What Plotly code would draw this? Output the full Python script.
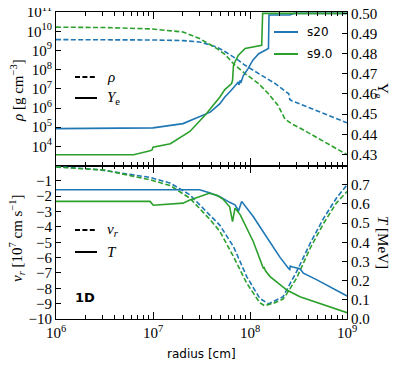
import plotly.graph_objects as go
from plotly.subplots import make_subplots

# ---- data (radius in cm) ----
# density, s20
r_rho_s20 = [1.0e6, 3.16e6, 1.0e7, 2.04e7, 3.02e7, 3.89e7, 4.57e7, 5.5e7, 7.24e7,
             8.91e7, 1.23e8, 1.82e8, 2.51e8, 2.57e8, 2.69e8, 1.0e9]
rho_s20 = [3.7e9, 3.67e9, 3.55e9, 3.3e9, 2.8e9, 1.95e9, 1.5e9, 8.9e8, 3.7e8,
           1.7e8, 6.2e7, 1.86e7, 5.5e6, 2.8e6, 2.4e6, 1.7e5]
# density, s9.0
r_rho_s9 = [1.0e6, 3.16e6, 9.33e6, 2.04e7, 3.02e7, 4.57e7, 5.5e7, 7.0e7, 8.91e7,
            1.23e8, 1.55e8, 1.95e8, 2.29e8, 2.69e8, 3.27e8, 1.0e9]
rho_s9 = [1.66e10, 1.58e10, 1.35e10, 9.3e9, 4.2e9, 1.26e9, 6.3e8, 1.7e8, 6.2e7,
          1.86e7, 5.5e6, 1.35e6, 2.7e5, 1.5e5, 9.1e4, 3.7e3]

# electron fraction, s20
r_ye_s20 = [1.0e6, 1.0e7, 2.04e7, 3.02e7, 3.89e7, 4.9e7, 5.5e7, 6.31e7, 7.24e7, 7.59e7,
            7.67e7, 7.94e7, 8.04e7, 8.51e7, 9.55e7, 1.07e8, 1.23e8, 1.43e8, 1.55e8,
            1.57e8, 2.57e8, 2.82e8, 1.0e9]
ye_s20 = [0.4428, 0.4432, 0.4453, 0.4486, 0.4510, 0.4552, 0.4585, 0.4615, 0.4648, 0.4660,
          0.4645, 0.4668, 0.4655, 0.4690, 0.4726, 0.4768, 0.4800, 0.4817, 0.4826,
          0.4992, 0.4992, 0.5000, 0.5000]
# electron fraction, s9.0
r_ye_s9 = [1.0e6, 6.31e6, 9.33e6, 9.77e6, 1.0e7, 1.51e7, 2.4e7, 3.55e7, 4.17e7, 4.9e7,
           5.5e7, 6.46e7, 6.61e7, 6.76e7, 7.0e7, 7.59e7, 8.91e7, 1.32e8, 1.35e8, 1.0e9]
ye_s9 = [0.4298, 0.4298, 0.4318, 0.4322, 0.4336, 0.4353, 0.4414, 0.4502, 0.4544, 0.4585,
         0.4622, 0.4652, 0.4668, 0.4743, 0.4760, 0.4793, 0.4826, 0.4842, 0.5000, 0.5000]

# radial velocity [1e7 cm/s], s20
r_vr_s20 = [1.0e6, 2.82e6, 9.33e6, 1.51e7, 2.4e7, 3.89e7, 4.9e7, 6.76e7, 9.25e7, 1.26e8,
            1.55e8, 2.19e8, 2.79e8, 3.02e8, 4.17e8, 5.75e8, 7.76e8, 1.0e9]
vr_s20 = [-0.07, -0.28, -0.78, -1.15, -1.91, -3.22, -3.9, -5.29, -7.24, -8.65,
          -9.02, -8.55, -7.35, -6.92, -5.07, -3.43, -2.13, -1.26]
# radial velocity [1e7 cm/s], s9.0
r_vr_s9 = [1.0e6, 3.16e6, 9.33e6, 1.51e7, 2.4e7, 3.89e7, 4.9e7, 6.76e7, 9.25e7, 1.26e8,
           1.41e8, 1.74e8, 2.19e8, 2.4e8, 3.02e8, 4.17e8, 5.75e8, 7.76e8, 1.0e9]
vr_s9 = [-0.1, -0.3, -0.93, -1.31, -2.13, -3.54, -4.3, -5.94, -7.67, -8.94,
         -9.13, -8.98, -8.7, -8.35, -7.35, -5.39, -3.76, -2.45, -1.70]

# temperature [MeV], s20
r_t_s20 = [1.0e6, 3.02e7, 3.89e7, 4.9e7, 6.17e7, 7.0e7, 7.41e7, 7.59e7, 8.2e7, 1.08e8,
           1.26e8, 1.55e8, 2.04e8, 2.51e8, 2.57e8, 2.6e8, 2.69e8, 3.27e8, 3.55e8,
           4.9e8, 1.0e9]
t_s20 = [0.674, 0.674, 0.657, 0.637, 0.608, 0.595, 0.575, 0.560, 0.613, 0.534,
         0.482, 0.413, 0.321, 0.262, 0.258, 0.275, 0.272, 0.262, 0.239,
         0.204, 0.120]
# temperature [MeV], s9.0
r_t_s9 = [1.0e6, 9.33e6, 1.007e7, 1.12e7, 2.04e7, 2.4e7, 3.02e7, 3.8e7, 4.57e7, 5.25e7,
          6.17e7, 6.46e7, 6.61e7, 7.0e7, 7.94e7, 1.08e8, 1.37e8, 1.40e8, 1.45e8,
          1.61e8, 2.4e8, 3.27e8, 4.9e8, 1.0e9]
t_s9 = [0.613, 0.613, 0.593, 0.595, 0.604, 0.620, 0.639, 0.655, 0.645, 0.625,
        0.585, 0.526, 0.508, 0.578, 0.543, 0.404, 0.265, 0.268, 0.250,
        0.221, 0.151, 0.116, 0.085, 0.033]

# ticks
x_tickvals = [1e6, 1e7, 1e8, 1e9]
x_ticktext = ['10<sup>6</sup>', '10<sup>7</sup>', '10<sup>8</sup>', '10<sup>9</sup>']
rho_tickvals = [1e4, 1e5, 1e6, 1e7, 1e8, 1e9, 1e10, 1e11]
rho_ticktext = ['10<sup>%d</sup>' % k for k in range(4, 12)]
ye_tickvals = [0.43, 0.44, 0.45, 0.46, 0.47, 0.48, 0.49, 0.50]
ye_ticktext = ['0.43', '0.44', '0.45', '0.46', '0.47', '0.48', '0.49', '0.50']
vr_tickvals = [-10, -9, -8, -7, -6, -5, -4, -3, -2, -1]
vr_ticktext = ['\u221210', '\u22129', '\u22128', '\u22127', '\u22126', '\u22125',
               '\u22124', '\u22123', '\u22122', '\u22121']
t_tickvals = [0.0, 0.1, 0.2, 0.3, 0.4, 0.5, 0.6, 0.7]
t_ticktext = ['0.0', '0.1', '0.2', '0.3', '0.4', '0.5', '0.6', '0.7']

BLUE = '#1f77b4'
GREEN = '#2ca02c'
DASH = '5px,2.4px'
LW = 1.6
SERIF = 'Liberation Serif'
SANS = 'DejaVu Sans'

fig = make_subplots(rows=2, cols=1, shared_xaxes=True, vertical_spacing=0,
                    specs=[[{"secondary_y": True}], [{"secondary_y": True}]])

# top panel
fig.add_trace(go.Scatter(x=r_rho_s20, y=rho_s20, mode='lines',
                         line=dict(color=BLUE, width=LW, dash=DASH)), row=1, col=1)
fig.add_trace(go.Scatter(x=r_rho_s9, y=rho_s9, mode='lines',
                         line=dict(color=GREEN, width=LW, dash=DASH)), row=1, col=1)
fig.add_trace(go.Scatter(x=r_ye_s20, y=ye_s20, mode='lines',
                         line=dict(color=BLUE, width=LW)), row=1, col=1, secondary_y=True)
fig.add_trace(go.Scatter(x=r_ye_s9, y=ye_s9, mode='lines',
                         line=dict(color=GREEN, width=LW)), row=1, col=1, secondary_y=True)

# bottom panel
fig.add_trace(go.Scatter(x=r_vr_s20, y=vr_s20, mode='lines',
                         line=dict(color=BLUE, width=LW, dash=DASH)), row=2, col=1)
fig.add_trace(go.Scatter(x=r_vr_s9, y=vr_s9, mode='lines',
                         line=dict(color=GREEN, width=LW, dash=DASH)), row=2, col=1)
fig.add_trace(go.Scatter(x=r_t_s20, y=t_s20, mode='lines',
                         line=dict(color=BLUE, width=LW)), row=2, col=1, secondary_y=True)
fig.add_trace(go.Scatter(x=r_t_s9, y=t_s9, mode='lines',
                         line=dict(color=GREEN, width=LW)), row=2, col=1, secondary_y=True)

# ticklabeloverflow='allow' keeps the 10^11 / 0.50 labels that sit on the figure's top edge
axis_common = dict(showline=True, linecolor='black', linewidth=1.2, ticks='inside',
                   tickcolor='black', tickwidth=1, showgrid=False, zeroline=False,
                   automargin=False, ticklabeloverflow='allow',
                   tickfont=dict(family=SERIF, size=15, color='black'))

minor_vals = [m * 10 ** e for e in range(6, 9) for m in range(2, 10)]
fig.update_xaxes(type='log', range=[6, 9], mirror='ticks', ticklen=7,
                 tickvals=x_tickvals, ticktext=x_ticktext, domain=[0, 1],
                 minor=dict(ticks='inside', ticklen=3.5, tickvals=minor_vals,
                            tickcolor='black', showgrid=False),
                 **axis_common)
fig.update_xaxes(showticklabels=False, row=1, col=1)

fig.update_yaxes(type='log', range=[3, 11.01], ticklen=5, tickvals=rho_tickvals,
                 ticktext=rho_ticktext, domain=[0.5, 1],
                 row=1, col=1, secondary_y=False, **axis_common)
fig.update_yaxes(range=[0.4245, 0.5007], ticklen=5, tickvals=ye_tickvals,
                 ticktext=ye_ticktext, row=1, col=1, secondary_y=True, **axis_common)
fig.update_yaxes(range=[-10, 0], ticklen=5, tickvals=vr_tickvals,
                 ticktext=vr_ticktext, domain=[0, 0.5],
                 row=2, col=1, secondary_y=False, **axis_common)
fig.update_yaxes(range=[0, 0.8], ticklen=5, tickvals=t_tickvals,
                 ticktext=t_ticktext, row=2, col=1, secondary_y=True, **axis_common)


# page pixel -> paper helpers (plot area 56..347 x 12..319 on the page)
def px(x):
    return (x - 56) / 291


def py(y):
    return (319 - y) / 307


shapes = []
annotations = []


def leg_line(x0, x1, y, color, dash=None):
    shapes.append(dict(type='line', xref='paper', yref='paper', x0=px(x0), x1=px(x1),
                       y0=py(y), y1=py(y),
                       line=dict(color=color, width=2, dash=dash or 'solid')))


def text(x, y, s, size=15, family=SERIF, xanchor='left', angle=0):
    annotations.append(dict(x=px(x), y=py(y), xref='paper', yref='paper', text=s,
                            showarrow=False, xanchor=xanchor, yanchor='middle',
                            textangle=angle,
                            font=dict(family=family, size=size, color='black')))


# model legend
leg_line(274, 298, 32, BLUE)
leg_line(274, 298, 54, GREEN)
text(305, 32, 's20', size=12, family=SANS)
text(305, 54, 's9.0', size=12, family=SANS)

# line style legends
leg_line(75, 97, 77, 'black', DASH)
leg_line(75, 97, 98, 'black')
text(105, 77, '<i>ρ</i>')
text(105, 98, '<i>Y</i><sub>e</sub>')
leg_line(75, 97, 230, 'black', DASH)
leg_line(75, 97, 252, 'black')
text(105, 230, '<i>v</i><sub><i>r</i></sub>')
text(105, 252, '<i>T</i>')
text(73, 297, '<b>1D</b>', size=13, family=SANS)

# axis titles
text(17, 91, '<i>ρ</i> [g cm<sup>−3</sup>]', xanchor='center', angle=-90)
text(382, 91, 'Y<sub>e</sub>', xanchor='center', angle=90)
text(17, 238, '<i>v</i><sub><i>r</i></sub> [10<sup>7</sup> cm s<sup>−1</sup>]',
     xanchor='center', angle=-90)
text(383, 242, '<i>T</i> [MeV]', xanchor='center', angle=90)
text(201, 354, 'radius [cm]', size=12, family=SANS, xanchor='center')

# the page body puts the figure 8px in from the top-left corner,
# so the figure is 8px smaller to keep the plot area where it belongs
fig.update_layout(width=391, height=362, margin=dict(l=48, r=52, t=4, b=51),
                  plot_bgcolor='white', paper_bgcolor='white', showlegend=False,
                  shapes=shapes, annotations=annotations)

fig.write_html("out.html")
